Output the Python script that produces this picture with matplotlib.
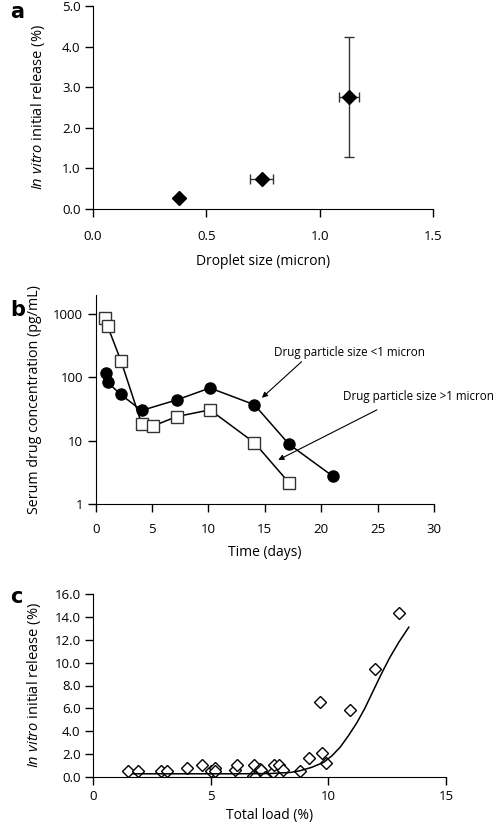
import matplotlib
matplotlib.use("Agg")
import matplotlib.pyplot as plt

plt.rcParams['font.family'] = ['Open Sans', 'DejaVu Sans']
plt.rcParams['font.size'] = 9
plt.rcParams['mathtext.fontset'] = 'custom'
plt.rcParams['mathtext.rm'] = 'Open Sans'
plt.rcParams['mathtext.it'] = 'Open Sans:italic'

# panel a: droplet size vs initial release
size_a = [0.38, 0.744, 1.128]
release_a = [0.28, 0.73, 2.76]
size_err_a = [0.0, 0.05, 0.044]
release_err_a = [0.0, 0.0, 1.47]

# panel b: serum concentration over time
days_small = [0.92, 1.05, 2.2, 4.07, 7.18, 10.13, 14.07, 17.14, 21.0]
conc_small = [117, 84, 54, 30, 44, 68, 37, 8.8, 2.77]
days_large = [0.85, 1.06, 2.24, 4.07, 5.1, 7.18, 10.13, 14.07, 17.14]
conc_large = [855, 638, 183, 18.6, 17.1, 24, 30.7, 9.3, 2.17]

# panel c: total load vs initial release
load_c = [1.47, 1.9, 2.9, 3.16, 3.99, 4.65, 5.02, 5.19, 5.19, 6.04, 6.14,
          6.78, 6.85, 6.9, 7.1, 7.15, 7.32, 7.65, 7.68, 7.9, 8.07, 8.8,
          9.16, 9.66, 9.73, 9.91, 10.94, 11.97, 13.0]
release_c = [0.52, 0.5, 0.5, 0.5, 0.76, 1.05, 0.5, 0.75, 0.5, 0.65, 1.05,
             0.1, 1.05, 0.0, 0.7, 0.6, 0.0, 0.45, 1.05, 1.05, 0.65, 0.5,
             1.63, 6.55, 2.12, 1.25, 5.9, 9.44, 14.3]
# fitted curve
fit_x = [1.7, 4.0, 6.0, 7.5, 8.4, 8.8, 9.3, 9.8, 10.15, 10.5, 10.85, 11.2,
         11.55, 11.9, 12.25, 12.6, 13.0, 13.42]
fit_y = [0.28, 0.28, 0.28, 0.3, 0.4, 0.55, 0.85, 1.28, 1.85, 2.6, 3.6, 4.7,
         6.0, 7.5, 9.0, 10.4, 11.8, 13.1]

W, H = 496, 823
fig = plt.figure(figsize=(W / 100, H / 100), dpi=100)


def style(ax, xpad, ypad=3):
    ax.spines['top'].set_visible(False)
    ax.spines['right'].set_visible(False)
    ax.tick_params(direction='out', length=6, width=1, colors='black',
                   labelsize=9.5)
    ax.tick_params(axis='x', pad=xpad)
    ax.tick_params(axis='y', pad=ypad)


# ---- a ----
ax1 = fig.add_axes([93 / W, 1 - 209 / H, 340 / W, 203 / H])
ax1.errorbar(size_a, release_a, xerr=size_err_a, yerr=release_err_a,
             fmt='D', color='black', ms=7.5, ecolor='#333333', elinewidth=1,
             capsize=3.5, capthick=1)
ax1.set_xlim(0, 1.5)
ax1.set_ylim(0, 5)
ax1.set_xticks([0, 0.5, 1.0, 1.5])
ax1.set_yticks([0, 1, 2, 3, 4, 5])
ax1.set_xticklabels(['0.0', '0.5', '1.0', '1.5'])
ax1.set_yticklabels(['0.0', '1.0', '2.0', '3.0', '4.0', '5.0'])
style(ax1, 9)
ax1.set_xlabel('Droplet size (micron)', fontsize=10, labelpad=8)
ax1.set_ylabel(r'$\it{In\ vitro}$ initial release (%)', fontsize=10.5, labelpad=11)
fig.text(10 / W, 1 - 12 / H, 'a', fontsize=15, fontweight='bold',
         ha='left', va='center', family='DejaVu Sans')

# ---- b ----
ax2 = fig.add_axes([95.7 / W, 1 - 504 / H, 338.3 / W, 209 / H])
ax2.plot(days_small, conc_small, '-o', color='black', ms=8, lw=1.1,
         mfc='black', mec='black')
ax2.plot(days_large, conc_large, '-s', color='black', ms=8, lw=1.1,
         mfc='white', mec='#333333', mew=1)
ax2.set_yscale('log')
ax2.set_xlim(0, 30)
ax2.set_ylim(1, 2000)
ax2.set_xticks([0, 5, 10, 15, 20, 25, 30])
ax2.set_yticks([1, 10, 100, 1000])
ax2.set_yticklabels(['1', '10', '100', '1000'])
ax2.minorticks_off()
style(ax2, 8)
ax2.set_xlabel('Time (days)', fontsize=10, labelpad=6)
ax2.set_ylabel('Serum drug concentration (pg/mL)', fontsize=10.3, labelpad=8)

arrow = dict(arrowstyle='-|>', color='black', lw=0.8, mutation_scale=8,
             shrinkA=0, shrinkB=0)
ax2.text(15.8, 250, 'Drug particle size <1 micron', fontsize=8.4,
         ha='left', va='center')
ax2.annotate('', xy=(14.74, 47.6), xytext=(18.26, 177), arrowprops=arrow)
ax2.text(21.9, 50, 'Drug particle size >1 micron', fontsize=8.4,
         ha='left', va='center', clip_on=False)
ax2.annotate('', xy=(16.19, 4.97), xytext=(24.94, 30.7), arrowprops=arrow)
fig.text(10 / W, 1 - 310 / H, 'b', fontsize=15, fontweight='bold',
         ha='left', va='center', family='DejaVu Sans')

# ---- c ----
ax3 = fig.add_axes([93 / W, 1 - 777 / H, 353 / W, 183 / H])
ax3.plot(load_c, release_c, 'D', ms=6.5, mfc='white', mec='black', mew=1)
ax3.plot(fit_x, fit_y, '-', color='black', lw=1.1)
ax3.set_xlim(0, 15)
ax3.set_ylim(0, 16)
ax3.set_xticks([0, 5, 10, 15])
ax3.set_yticks([0, 2, 4, 6, 8, 10, 12, 14, 16])
ax3.set_yticklabels(['%.1f' % v for v in [0, 2, 4, 6, 8, 10, 12, 14, 16]])
style(ax3, 3)
ax3.set_xlabel('Total load (%)', fontsize=10, labelpad=4)
ax3.set_ylabel(r'$\it{In\ vitro}$ initial release (%)', fontsize=10.5, labelpad=8)
fig.text(10 / W, 1 - 597 / H, 'c', fontsize=15, fontweight='bold',
         ha='left', va='center', family='DejaVu Sans')

fig.savefig('out.png', dpi=100)
